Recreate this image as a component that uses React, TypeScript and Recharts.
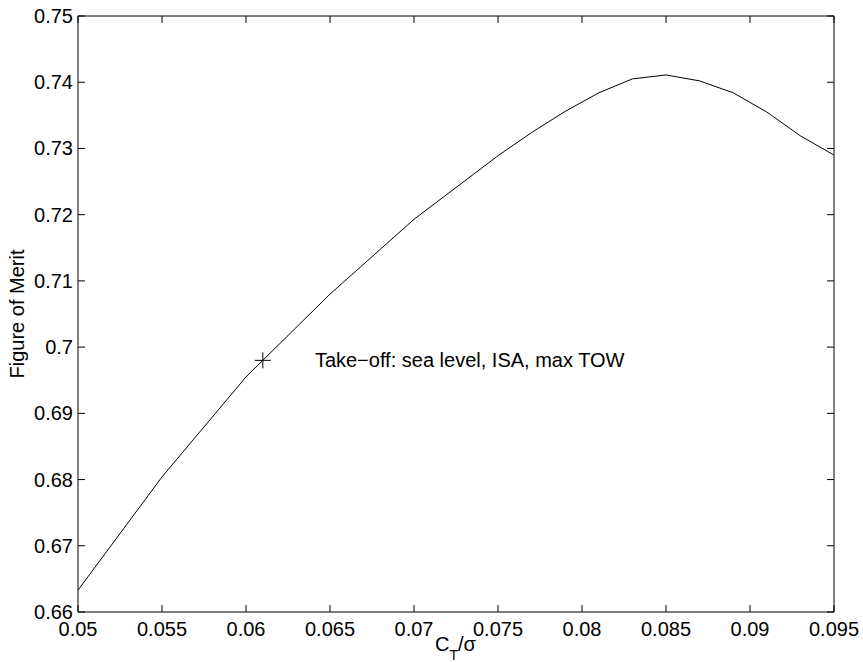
import React from 'react'
import {
  ComposedChart, Line, Scatter, XAxis, YAxis,
} from 'recharts'

// C_T/sigma vs figure of merit
const ctSigma = [0.05, 0.055, 0.06, 0.065, 0.07, 0.075, 0.077, 0.079, 0.081, 0.083, 0.085, 0.087, 0.089, 0.091, 0.093, 0.095]
const merit = [0.6633, 0.6804, 0.6955, 0.708, 0.7193, 0.7289, 0.7324, 0.7356, 0.7384, 0.7405, 0.7411, 0.7402, 0.7384, 0.7355, 0.7319, 0.729]

const xTicks = [0.05, 0.055, 0.06, 0.065, 0.07, 0.075, 0.08, 0.085, 0.09, 0.095]
const yTicks = [0.66, 0.67, 0.68, 0.69, 0.7, 0.71, 0.72, 0.73, 0.74, 0.75]

const takeoffPoint = [{ ct: 0.061, fm: 0.698 }]
const noteAnchor = [{ ct: 0.0641, fm: 0.698 }]
const noteText = 'Take−off: sea level, ISA, max TOW'

const data = ctSigma.map((ct, i) => ({ ct, fm: merit[i] }))

const FONT = '"Liberation Sans", Arial, Helvetica, sans-serif'
const FS = 20
const TICK = 7

const fmt = (v: number) => String(Number(v.toPrecision(6)))

function BottomTick({ x, y, payload }: any) {
  return (
    <g>
      <line x1={x} x2={x} y1={y} y2={y - TICK} stroke="#000" />
      <text x={x} y={y + 24} textAnchor="middle" fontSize={FS} fill="#000" fontFamily={FONT}>{fmt(payload.value)}</text>
    </g>
  )
}

function TopTick({ x, y }: any) {
  return <line x1={x} x2={x} y1={y} y2={y + TICK} stroke="#000" />
}

function LeftTick({ x, y, payload }: any) {
  return (
    <g>
      <line x1={x} x2={x + TICK} y1={y} y2={y} stroke="#000" />
      <text x={x - 5} y={y + 7} textAnchor="end" fontSize={FS} fill="#000" fontFamily={FONT}>{fmt(payload.value)}</text>
    </g>
  )
}

function RightTick({ x, y }: any) {
  return <line x1={x} x2={x - TICK} y1={y} y2={y} stroke="#000" />
}

function PlusMark({ cx, cy }: any) {
  return (
    <g stroke="#000" strokeWidth={1}>
      <line x1={cx - 8} x2={cx + 8} y1={cy} y2={cy} />
      <line x1={cx} x2={cx} y1={cy - 8} y2={cy + 8} />
    </g>
  )
}

function NoteMark({ cx, cy }: any) {
  return (
    <text x={cx} y={cy + 7} fontSize={FS} fill="#000" fontFamily={FONT}>{noteText}</text>
  )
}

function XTitle() {
  return (
    <text x={435} y={651} fontSize={FS} fill="#000" fontFamily={FONT}>
      C<tspan fontSize={14} dy={9}>T</tspan><tspan dy={-9}>/σ</tspan>
    </text>
  )
}

function YTitle() {
  return (
    <text x={24} y={314} transform="rotate(-90 24 314)" textAnchor="middle" fontSize={FS} fill="#000" fontFamily={FONT}>
      Figure of Merit
    </text>
  )
}

export default function App() {
  return (
    <div style={{ position: 'absolute', left: 0, top: 0, background: '#fff' }}>
      <ComposedChart width={863} height={662} data={data} margin={{ top: 0, right: 0, bottom: 0, left: 0 }} style={{ fontFamily: FONT }}>
        <XAxis
          dataKey="ct" type="number" domain={[0.05, 0.095]} ticks={xTicks} allowDataOverflow
          height={50} stroke="#000" tickLine={false} tickSize={0} tickMargin={0}
          tick={<BottomTick />} interval={0} label={<XTitle />}
        />
        <XAxis
          xAxisId="top" orientation="top" dataKey="ct" type="number" domain={[0.05, 0.095]} ticks={xTicks} allowDataOverflow
          height={16} stroke="#000" tickLine={false} tickSize={0} tickMargin={0} tick={<TopTick />} interval={0}
        />
        <YAxis
          dataKey="fm" type="number" domain={[0.66, 0.75]} ticks={yTicks} allowDataOverflow
          width={78} stroke="#000" tickLine={false} tickSize={0} tickMargin={0}
          tick={<LeftTick />} interval={0} label={<YTitle />}
        />
        <YAxis
          yAxisId="right" orientation="right" dataKey="fm" type="number" domain={[0.66, 0.75]} ticks={yTicks} allowDataOverflow
          width={29} stroke="#000" tickLine={false} tickSize={0} tickMargin={0} tick={<RightTick />} interval={0}
        />
        <Line type="linear" dataKey="fm" stroke="#000" strokeWidth={1} dot={false} isAnimationActive={false} />
        <Scatter data={takeoffPoint} dataKey="fm" shape={<PlusMark />} isAnimationActive={false} />
        <Scatter data={noteAnchor} dataKey="fm" shape={<NoteMark />} isAnimationActive={false} />
      </ComposedChart>
    </div>
  )
}
